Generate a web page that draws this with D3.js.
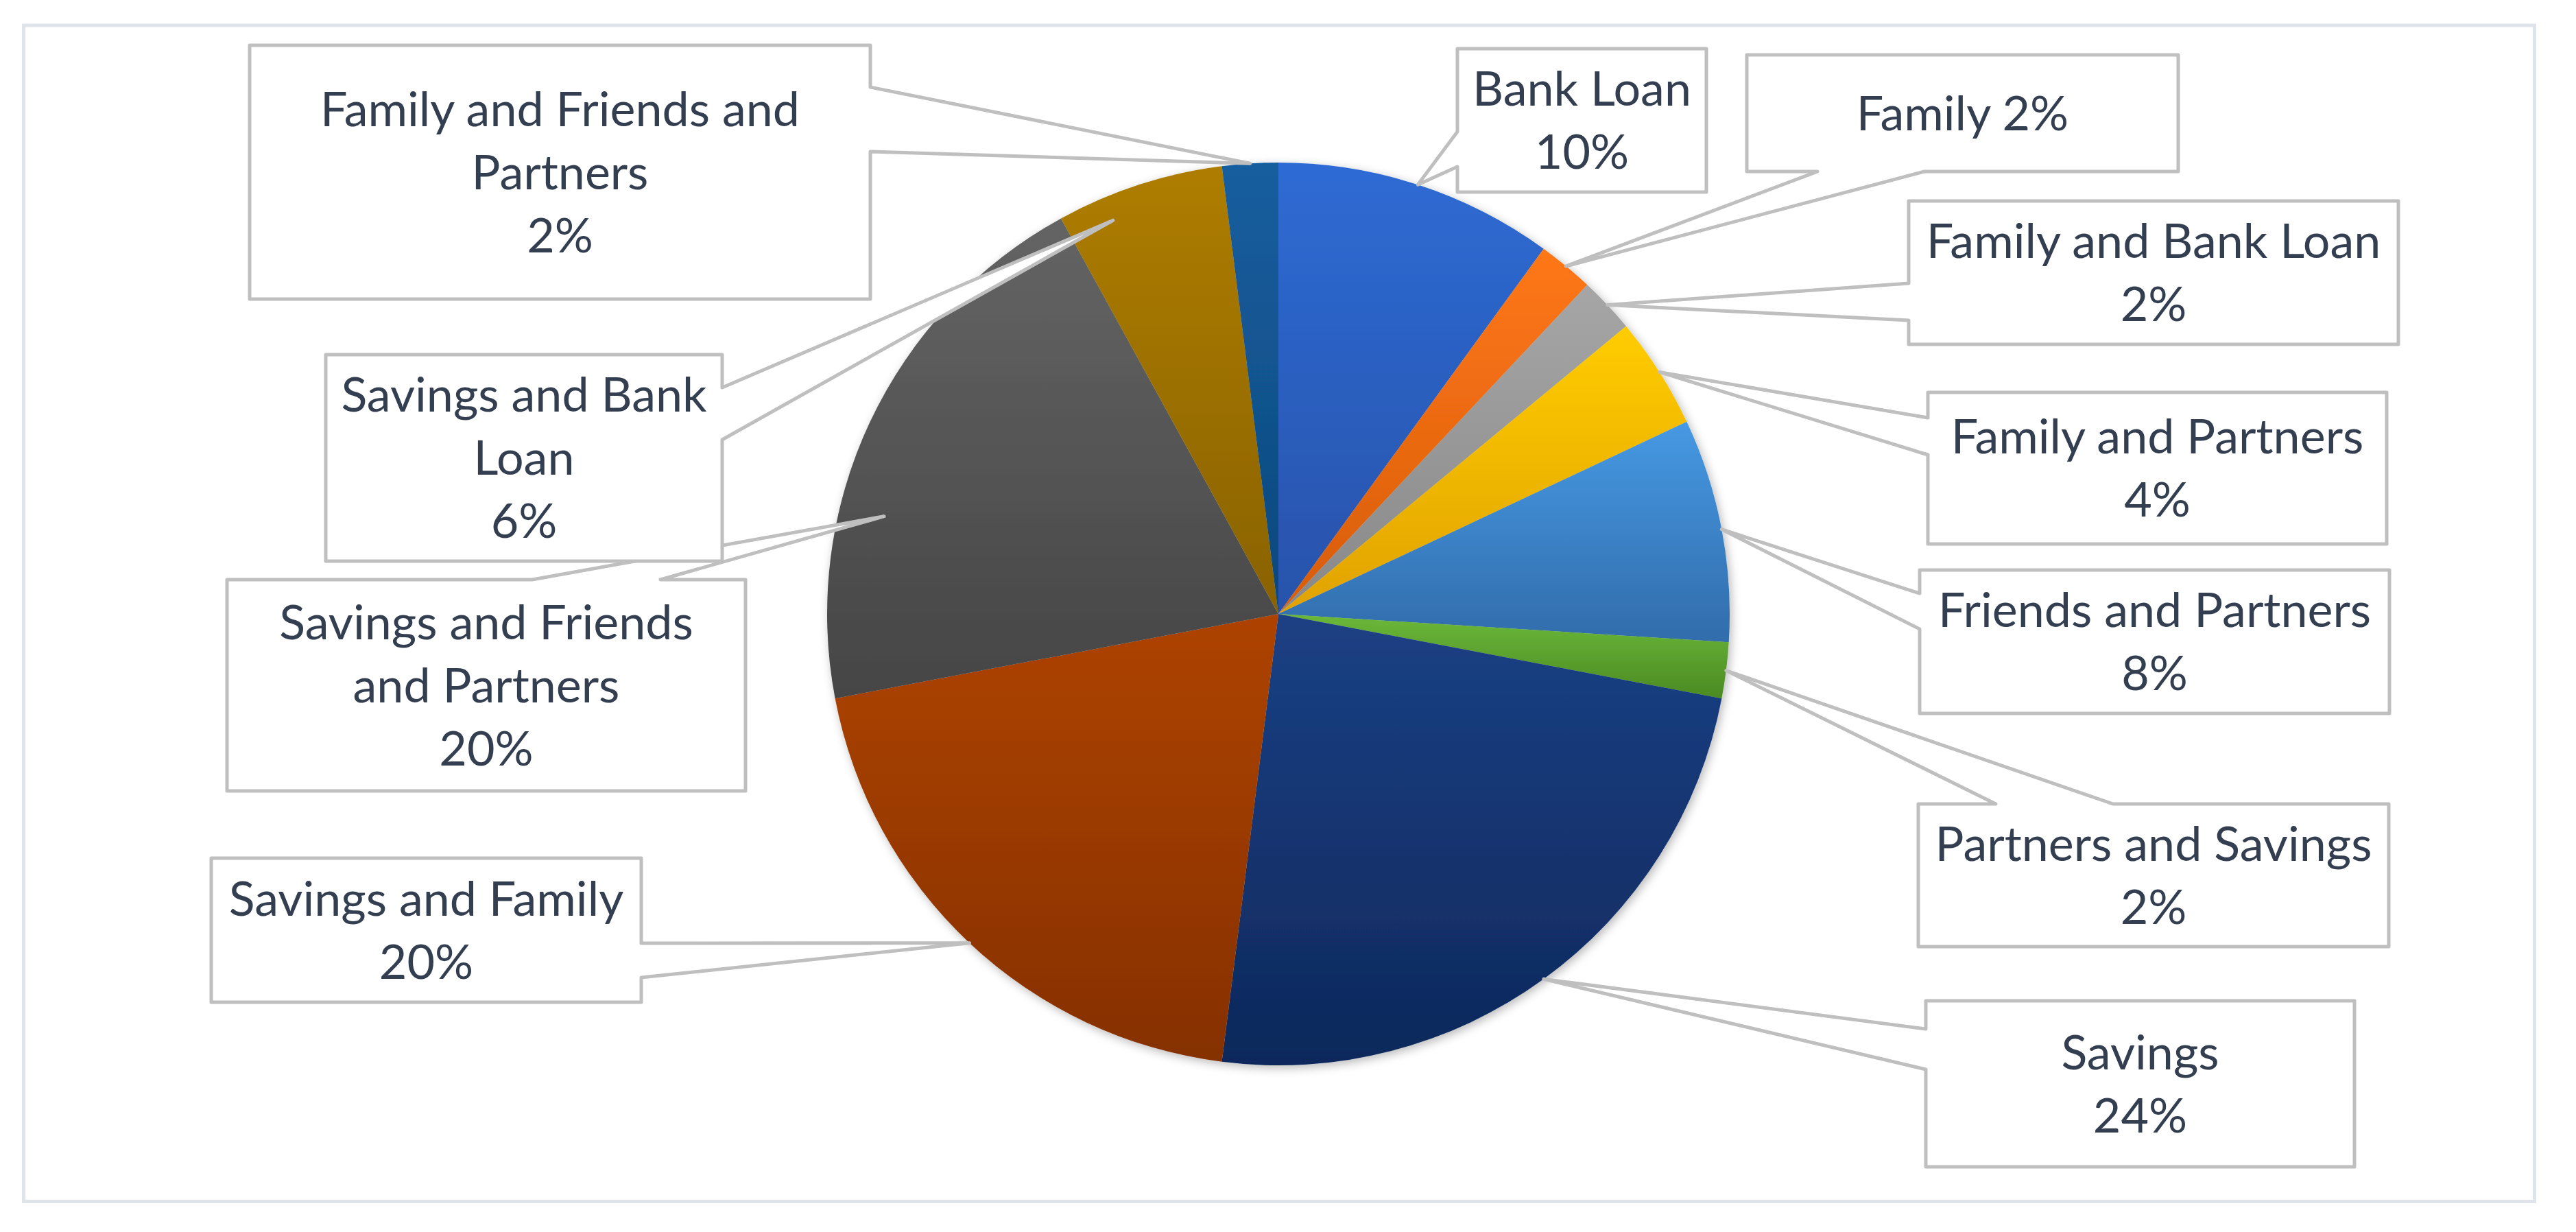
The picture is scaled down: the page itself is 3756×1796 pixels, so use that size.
<!DOCTYPE html>
<html>
<head>
<meta charset="utf-8">
<script src="https://cdn.jsdelivr.net/npm/d3@7/dist/d3.min.js"></script>
<style>
  html, body { margin: 0; padding: 0; background: #ffffff; }
  svg { display: block; }
</style>
</head>
<body>
<div id="chart"></div>
<script>
// ---------- DATA ----------
const categories = [
  "Bank Loan",
  "Family",
  "Family and Bank Loan",
  "Family and Partners",
  "Friends and Partners",
  "Partners and Savings",
  "Savings",
  "Savings and Family",
  "Savings and Friends and Partners",
  "Savings and Bank Loan",
  "Family and Friends and Partners"
];
const values = [10, 2, 2, 4, 8, 2, 24, 20, 20, 6, 2];   // percent of respondents

// ---------- STYLE ----------
const colorsTop    = ["#2e6bd4", "#ff7716", "#a6a6a6", "#ffcc00", "#4699e3", "#6bb83a",
                      "#1b4084", "#ae4300", "#646464", "#ae7d00", "#155e9f"];
const colorsBottom = ["#2852aa", "#d65c0c", "#888888", "#e0a200", "#316cab", "#4b8a22",
                      "#0e285b", "#853000", "#454545", "#896200", "#0e487c"];

// ---------- LAYOUT (label callout boxes) ----------
// box: [x0, y0, x1, y1]; side: side of the box the pointer leaves from;
// base: the two positions on that side; words: words per text line;
// tipAngle / tipRadius: adjustment of the pointer tip relative to the slice mid-angle / radius.
const labelLayout = [
  { box: [2125,  71, 2488, 280], side: "left",   base: [192, 243],  words: [2] },
  { box: [2547,  80, 3176, 250], side: "bottom", base: [2650, 2806], words: [1], inline: true },
  { box: [2783, 293, 3497, 502], side: "left",   base: [413, 467],  words: [4] },
  { box: [2811, 572, 3480, 793], side: "left",   base: [609, 663],  words: [3] },
  { box: [2799, 831, 3484, 1040], side: "left",  base: [865, 917],  words: [3] },
  { box: [2797, 1172, 3483, 1380], side: "top",  base: [2910, 3081], words: [3] },
  { box: [2808, 1459, 3433, 1701], side: "left", base: [1500, 1559], words: [1] },
  { box: [308, 1251, 935, 1461], side: "right",  base: [1375, 1425], words: [3] },
  { box: [331, 845, 1087, 1153], side: "top",    base: [776, 963],  words: [3, 2], tipAngle: -11.3, tipRadius: 0.90 },
  { box: [475, 517, 1053, 818], side: "right",   base: [565, 641],  words: [3, 1], tipAngle: -4.8, tipRadius: 0.946 },
  { box: [364, 66, 1269, 436], side: "right",    base: [127, 221],  words: [4, 1] }
];

const W = 3756, H = 1796;
const cx = 1864, cy = 895, R = 658;
const fontSize = 70, lineGap = 92, capH = 49;
const textColor = "#333f50";

const svg = d3.select("#chart").append("svg")
  .attr("width", W).attr("height", H)
  .attr("viewBox", `0 0 ${W} ${H}`);

const defs = svg.append("defs");

// outer frame
svg.append("rect")
  .attr("x", 34.5).attr("y", 37)
  .attr("width", 3661).attr("height", 1714.5)
  .attr("fill", "#ffffff")
  .attr("stroke", "#dfe4eb").attr("stroke-width", 5);

// gradients per slice
values.forEach((v, i) => {
  const g = defs.append("linearGradient")
    .attr("id", "grad" + i)
    .attr("x1", 0).attr("y1", 0).attr("x2", 0).attr("y2", 1);
  g.append("stop").attr("offset", "0%").attr("stop-color", colorsTop[i]);
  g.append("stop").attr("offset", "100%").attr("stop-color", colorsBottom[i]);
});

// shadow
const f = defs.append("filter").attr("id", "shadow")
  .attr("x", "-10%").attr("y", "-10%").attr("width", "120%").attr("height", "120%");
f.append("feDropShadow")
  .attr("dx", 3).attr("dy", 4).attr("stdDeviation", 7)
  .attr("flood-color", "#000").attr("flood-opacity", 0.28);

const pie = d3.pie().sort(null).value(d => d).startAngle(0).endAngle(2 * Math.PI);
const arcs = pie(values);
const arc = d3.arc().innerRadius(0).outerRadius(R);

const pieG = svg.append("g")
  .attr("transform", `translate(${cx},${cy})`)
  .attr("filter", "url(#shadow)");

pieG.selectAll("path.slice")
  .data(arcs)
  .join("path")
  .attr("class", "slice")
  .attr("d", arc)
  .attr("fill", (d, i) => `url(#grad${i})`);

// ---------- callout labels ----------
function tipPoint(d, lay) {
  const mid = (d.startAngle + d.endAngle) / 2 + ((lay.tipAngle || 0) * Math.PI / 180);
  const r = R * (lay.tipRadius || 1);
  return [cx + r * Math.sin(mid), cy - r * Math.cos(mid)];
}

function calloutPath(lay, tip) {
  const [x0, y0, x1, y1] = lay.box;
  const [a, b] = lay.base;
  let pts;
  if (lay.side === "left") {
    pts = [[x0, y0], [x1, y0], [x1, y1], [x0, y1], [x0, b], tip, [x0, a]];
  } else if (lay.side === "right") {
    pts = [[x0, y0], [x1, y0], [x1, a], tip, [x1, b], [x1, y1], [x0, y1]];
  } else if (lay.side === "top") {
    pts = [[x0, y0], [a, y0], tip, [b, y0], [x1, y0], [x1, y1], [x0, y1]];
  } else {
    pts = [[x0, y0], [x1, y0], [x1, y1], [b, y1], tip, [a, y1], [x0, y1]];
  }
  return "M" + pts.map(p => p[0].toFixed(1) + "," + p[1].toFixed(1)).join("L") + "Z";
}

const labelG = svg.append("g");

arcs.forEach((d, i) => {
  const lay = labelLayout[i];
  const tip = tipPoint(d, lay);
  const g = labelG.append("g");
  g.append("path")
    .attr("d", calloutPath(lay, tip))
    .attr("fill", "#ffffff")
    .attr("stroke", "#bfbfbf")
    .attr("stroke-width", 5)
    .attr("stroke-linejoin", "round");

  // text lines
  const words = categories[i].split(" ");
  const lines = [];
  let k = 0;
  lay.words.forEach(n => { lines.push(words.slice(k, k + n).join(" ")); k += n; });
  const pct = values[i] + "%";
  if (lay.inline) lines[lines.length - 1] += " " + pct; else lines.push(pct);

  const [x0, y0, x1, y1] = lay.box;
  const mx = (x0 + x1) / 2, my = (y0 + y1) / 2;
  const blockH = (lines.length - 1) * lineGap + capH;
  const firstBase = my - blockH / 2 + capH;

  const t = g.append("text")
    .attr("text-anchor", "middle")
    .attr("font-family", "Lato, 'Open Sans', sans-serif")
    .attr("font-size", fontSize)
    .attr("fill", textColor);
  lines.forEach((ln, j) => {
    t.append("tspan").attr("x", mx).attr("y", firstBase + j * lineGap).text(ln);
  });
});
</script>
</body>
</html>
